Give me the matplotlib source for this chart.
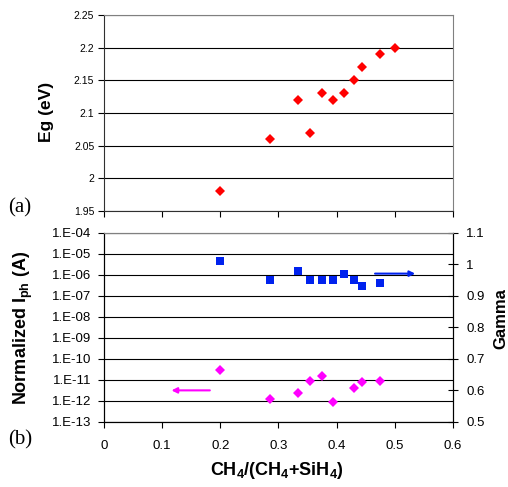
import numpy as np
import matplotlib
matplotlib.use('agg')
import matplotlib.pyplot as plt

plt.rcParams['font.family'] = ['Liberation Sans', 'DejaVu Sans']
plt.rcParams['mathtext.fontset'] = 'custom'
plt.rcParams['mathtext.rm'] = 'Liberation Sans:bold'
plt.rcParams['mathtext.bf'] = 'Liberation Sans:bold'

# (a) band gap
ratio_eg = [0.2, 0.286, 0.333, 0.355, 0.375, 0.394, 0.412, 0.429, 0.444, 0.474, 0.5]
eg = [1.98, 2.06, 2.12, 2.07, 2.13, 2.12, 2.13, 2.15, 2.17, 2.19, 2.20]

# (b) photocurrent and gamma
ratio_iph = [0.2, 0.286, 0.333, 0.355, 0.375, 0.394, 0.429, 0.444, 0.474]
iph = [2.9e-11, 1.2e-12, 2.4e-12, 8.7e-12, 1.6e-11, 9.3e-13, 4.0e-12, 8.0e-12, 8.7e-12]
ratio_gamma = [0.2, 0.286, 0.333, 0.355, 0.375, 0.394, 0.412, 0.429, 0.444, 0.474]
gamma = [1.01, 0.95, 0.98, 0.95, 0.95, 0.95, 0.97, 0.95, 0.932, 0.941]

# arrows: (x_start, x_end, y)
arrow_iph = (0.182, 0.116, 3.2e-12)
arrow_gamma = (0.466, 0.535, 0.971)

x_ticks = [0, 0.1, 0.2, 0.3, 0.4, 0.5, 0.6]
eg_ticks = [1.95, 2.0, 2.05, 2.1, 2.15, 2.2, 2.25]
iph_ticks = [10.0 ** k for k in range(-13, -3)]
iph_labels = ['1.E-%02d' % -k for k in range(-13, -3)]
gamma_ticks = [0.5, 0.6, 0.7, 0.8, 0.9, 1.0, 1.1]

fig = plt.figure(figsize=(5.08, 4.87), dpi=100)
ax1 = fig.add_axes([0.2047, 0.5667, 0.687, 0.4025])
ax2 = fig.add_axes([0.2047, 0.1335, 0.687, 0.3881])

# top panel
ax1.plot(ratio_eg, eg, 'D', color='#ff0000', markersize=5.5, markeredgewidth=0)
ax1.set_xlim(0, 0.6)
ax1.set_ylim(1.95, 2.25)
ax1.set_xticks(x_ticks)
ax1.set_xticklabels([])
ax1.set_yticks(eg_ticks)
ax1.set_yticklabels(['1.95', '2', '2.05', '2.1', '2.15', '2.2', '2.25'], fontsize=7.5)
ax1.yaxis.grid(True, color='black', linewidth=0.8)
ax1.set_axisbelow(True)
ax1.tick_params(direction='out', length=4, width=0.8, pad=3)
for s in ['top', 'right']:
    ax1.spines[s].set_color('#808080')
for s in ['left', 'bottom']:
    ax1.spines[s].set_color('#303030')

# bottom panel
ax2.set_yscale('log')
ax2.plot(ratio_iph, iph, 'D', color='#ff00ff', markersize=5.5, markeredgewidth=0)
ax2.set_xlim(0, 0.6)
ax2.set_ylim(1e-13, 1e-4)
ax2.set_xticks(x_ticks)
ax2.set_xticklabels(['0', '0.1', '0.2', '0.3', '0.4', '0.5', '0.6'], fontsize=9.5)
ax2.set_yticks(iph_ticks)
ax2.set_yticklabels(iph_labels, fontsize=9.5)
ax2.yaxis.set_minor_locator(matplotlib.ticker.NullLocator())
ax2.yaxis.grid(True, color='black', linewidth=0.8)
ax2.set_axisbelow(True)
ax2.tick_params(axis='y', direction='out', length=4, width=0.8, pad=5)
ax2.tick_params(axis='x', direction='out', length=4, width=0.8, pad=9)
ax2.spines['top'].set_color('#808080')
ax2.annotate('', xy=(arrow_iph[1], arrow_iph[2]), xytext=(arrow_iph[0], arrow_iph[2]),
             arrowprops=dict(arrowstyle='-|>', color='#ff00ff', lw=1.5,
                             mutation_scale=8, shrinkA=0, shrinkB=0))

ax3 = ax2.twinx()
ax3.plot(ratio_gamma, gamma, 's', color='#0022ee', markersize=5.3, markeredgewidth=0)
ax3.set_ylim(0.5, 1.1)
ax3.set_yticks(gamma_ticks)
ax3.set_yticklabels(['0.5', '0.6', '0.7', '0.8', '0.9', '1', '1.1'], fontsize=9.5)
ax3.tick_params(direction='inout', length=7, width=0.8, pad=6)
ax3.spines['top'].set_color('#808080')
ax3.annotate('', xy=(arrow_gamma[1], arrow_gamma[2]), xytext=(arrow_gamma[0], arrow_gamma[2]),
             arrowprops=dict(arrowstyle='-|>', color='#0022ee', lw=1.5,
                             mutation_scale=8, shrinkA=0, shrinkB=0))

# axis titles
fig.text(0.0925, 0.770, 'Eg (eV)', fontsize=12.5, fontweight='bold',
         rotation=90, ha='center', va='center')
fig.text(0.047, 0.3265, r'Normalized I$_{\mathbf{ph}}$ (A)', fontsize=13, fontweight='bold',
         rotation=90, ha='center', va='center')
fig.text(0.986, 0.345, 'Gamma', fontsize=12, fontweight='bold',
         rotation=90, ha='center', va='center')
fig.text(0.545, 0.0246, r'CH$_{\mathbf{4}}$/(CH$_{\mathbf{4}}$+SiH$_{\mathbf{4}}$)', fontsize=13,
         fontweight='bold', ha='center', va='baseline')

fig.text(0.016, 0.573, '(a)', fontsize=15, family='Liberation Serif', va='center')
fig.text(0.016, 0.0965, '(b)', fontsize=15, family='Liberation Serif', va='center')

plt.savefig('out.png', dpi=100)
